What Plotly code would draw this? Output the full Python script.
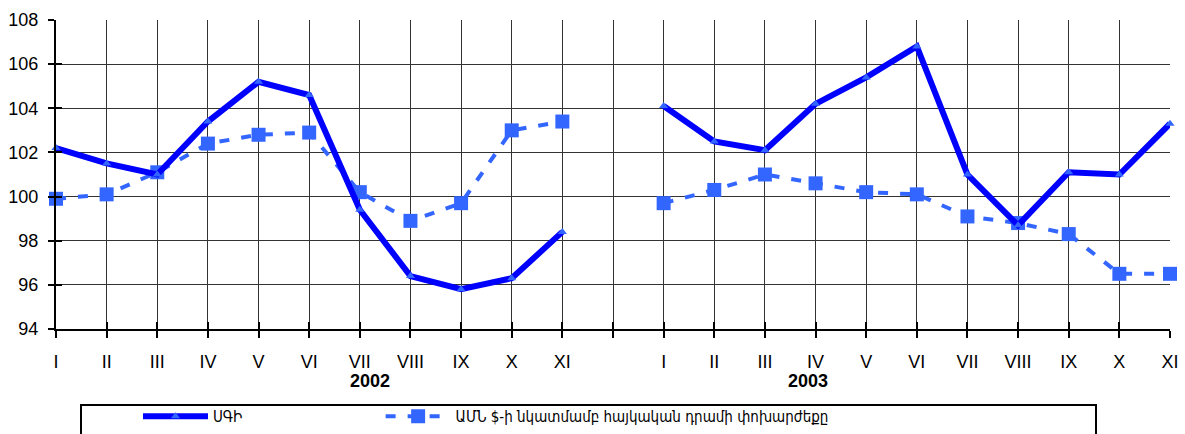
import plotly.graph_objects as go

months = ["I", "II", "III", "IV", "V", "VI", "VII", "VIII", "IX", "X", "XI"]
tick_labels = months + [""] + months
years = ["2002", "2003"]

cpi_2002 = [102.2, 101.5, 101.0, 103.4, 105.2, 104.6, 99.4, 96.4, 95.8, 96.3, 98.4]
cpi_2003 = [104.1, 102.5, 102.1, 104.2, 105.4, 106.8, 101.0, 98.7, 101.1, 101.0, 103.3]
fx_2002 = [99.9, 100.1, 101.1, 102.4, 102.8, 102.9, 100.2, 98.9, 99.7, 103.0, 103.4]
fx_2003 = [99.7, 100.3, 101.0, 100.6, 100.2, 100.1, 99.1, 98.8, 98.3, 96.5, 96.5]

name_cpi = "ՍԳԻ"
name_fx = "ԱՄՆ $-ի նկատմամբ հայկական դրամի փոխարժեքը"

x = list(range(len(tick_labels)))
cpi = cpi_2002 + [None] + cpi_2003
fx = fx_2002 + [None] + fx_2003

FONT = "Arial, Liberation Sans, DejaVu Sans, sans-serif"
LEG_FONT = "DejaVu Sans Condensed, DejaVu Sans, sans-serif"

fig = go.Figure()
fig.add_trace(go.Scatter(
    x=x, y=fx, name=name_fx, mode="lines+markers", legend="legend2",
    line=dict(color="#3366FF", width=4, dash="10px,12px"),
    marker=dict(symbol="square", size=14, color="#3366FF"),
    connectgaps=False, cliponaxis=False,
))
fig.add_trace(go.Scatter(
    x=x, y=cpi, name=name_cpi, mode="lines+markers", legend="legend",
    line=dict(color="#0000FF", width=6),
    marker=dict(symbol="triangle-up", size=8, color="#3366FF"),
    connectgaps=False, cliponaxis=False,
))

fig.update_layout(
    width=1185, height=434,
    margin=dict(l=56, r=15, t=20, b=105, autoexpand=False),
    plot_bgcolor="white", paper_bgcolor="white",
    font=dict(family=FONT, size=18, color="black"),
    showlegend=True,
    legend=dict(
        orientation="h", x=0.0736, y=-0.23, xanchor="left", yanchor="top",
        itemwidth=65, font=dict(size=15, family=LEG_FONT), bgcolor="rgba(0,0,0,0)",
    ),
    legend2=dict(
        orientation="h", x=0.2914, y=-0.23, xanchor="left", yanchor="top",
        itemwidth=65, font=dict(size=15, family=LEG_FONT), bgcolor="rgba(0,0,0,0)",
    ),
    xaxis=dict(
        range=[0, 22], tickvals=x, ticktext=tick_labels,
        showgrid=True, gridcolor="#333333", gridwidth=1,
        showline=True, linecolor="black", linewidth=2,
        ticks="outside", ticklen=7, tickwidth=2, tickcolor="black",
        ticklabelstandoff=8, zeroline=False,
        tickfont=dict(size=18),
    ),
    yaxis=dict(
        range=[94, 108], dtick=2, tick0=94,
        showgrid=True, gridcolor="#333333", gridwidth=1,
        showline=True, linecolor="black", linewidth=2,
        ticks="outside", ticklen=6, tickwidth=2, tickcolor="black",
        ticklabelstandoff=6, zeroline=False,
        tickfont=dict(size=18),
    ),
    xaxis2=dict(
        overlaying="x", range=[0, 22], tickvals=x, showticklabels=False,
        ticks="inside", ticklen=7, tickwidth=2, tickcolor="black",
        showgrid=False, zeroline=False, showline=False,
    ),
    yaxis2=dict(
        overlaying="y", range=[94, 108], dtick=2, tick0=94, showticklabels=False,
        ticks="inside", ticklen=6, tickwidth=2, tickcolor="black",
        showgrid=False, zeroline=False, showline=False,
    ),
)

# invisible trace to activate overlay axes
fig.add_trace(go.Scatter(x=[0], y=[94], xaxis="x2", yaxis="y2", mode="markers",
                         marker=dict(opacity=0), showlegend=False, hoverinfo="skip"))

fig.add_annotation(x=6.2, y=-0.168, xref="x", yref="paper", text="<b>" + years[0] + "</b>",
                   showarrow=False, yanchor="middle", font=dict(size=18))
fig.add_annotation(x=14.85, y=-0.168, xref="x", yref="paper", text="<b>" + years[1] + "</b>",
                   showarrow=False, yanchor="middle", font=dict(size=18))

fig.add_shape(type="rect", xref="paper", yref="paper",
              x0=(81 - 56) / 1114, x1=(1096 - 56) / 1114, y0=-0.246, y1=-0.45,
              line=dict(color="black", width=2), fillcolor="rgba(0,0,0,0)")

fig.write_html("out.html", config={"displayModeBar": False},
               post_script="document.body.style.margin='0';document.body.style.overflow='hidden';")
